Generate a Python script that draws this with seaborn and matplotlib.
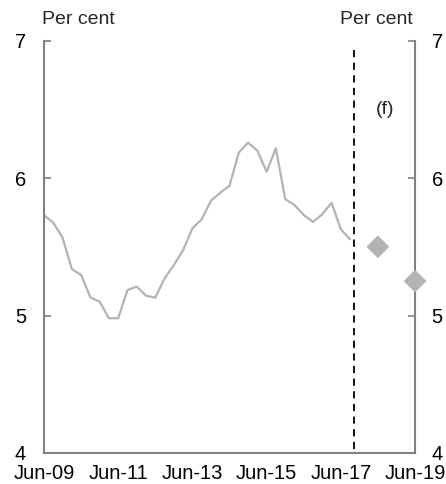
import matplotlib
matplotlib.use("Agg")
import matplotlib.pyplot as plt
import seaborn as sns
import pandas as pd
import numpy as np

sns.set_theme(style="white")
plt.rcParams['font.family'] = ['Liberation Sans', 'DejaVu Sans']

# Quarterly data, Jun-09 to Sep-17 (x as fractional year)
years = [2009.5 + 0.25 * i for i in range(34)]
values = [5.73, 5.675, 5.566, 5.338, 5.295, 5.132, 5.10, 4.98, 4.98, 5.185,
          5.21, 5.144, 5.13, 5.27, 5.367, 5.476, 5.634, 5.70, 5.835, 5.893,
          5.944, 6.184, 6.257, 6.199, 6.046, 6.216, 5.847, 5.804, 5.731, 5.68,
          5.736, 5.82, 5.627, 5.554]
fc_years = [2018.5, 2019.5]
fc_values = [5.5, 5.25]
forecast_start = 2017.85
xtick_pos = [2009.5, 2011.5, 2013.5, 2015.5, 2017.5, 2019.5]
xtick_labels = ["Jun-09", "Jun-11", "Jun-13", "Jun-15", "Jun-17", "Jun-19"]
yticks = [4, 5, 6, 7]

df = pd.DataFrame({"year": years, "value": values})
fc = pd.DataFrame({"year": fc_years, "value": fc_values})

fig = plt.figure(figsize=(4.46, 4.84), dpi=100)
ax = fig.add_axes([44/446, 31/484, (415-44)/446, (453-40.5)/484])

sns.lineplot(data=df, x="year", y="value", ax=ax, color="#b3b3b3", linewidth=1.6)
sns.scatterplot(data=fc, x="year", y="value", ax=ax, marker="D", s=135,
                color="#b3b3b3", edgecolor="none", zorder=5, clip_on=False)
ax.axvline(forecast_start, color="black", linestyle=(0, (4, 3)), linewidth=1.3,
           ymin=0.01, ymax=0.985)

ax.set_xlim(2009.5, 2019.5)
ax.set_ylim(4, 7)
ax.set_xticks(xtick_pos)
ax.set_xticklabels(xtick_labels)
ax.set_yticks(yticks)
ax.set_xlabel("")
ax.set_ylabel("")

spine_col = "#808080"
for s in ["left", "bottom", "right"]:
    ax.spines[s].set_color(spine_col)
    ax.spines[s].set_linewidth(1.5)
ax.spines["top"].set_visible(False)

FS = 14.5
ax.tick_params(axis="x", direction="in", length=6, width=1.2, color=spine_col,
               labelsize=FS, pad=8, labelcolor="black")
ax.tick_params(axis="y", direction="in", length=5, width=1.2, color=spine_col,
               labelsize=FS, pad=13, left=True, right=False, labelcolor="black")

ax2 = ax.twinx()
ax2.set_ylim(4, 7)
ax2.set_yticks(yticks)
for s in ["left", "bottom", "right", "top"]:
    ax2.spines[s].set_visible(False)
ax2.tick_params(axis="y", direction="in", length=5, width=1.2, color=spine_col,
                labelsize=FS, pad=12, labelcolor="black")
ax2.grid(False)
ax.grid(False)

ax.text(2018.7, 6.5, "(f)", fontsize=14, ha="center", va="center")
fig.text(42/446, 1 - 20/484, "Per cent", fontsize=14, ha="left", va="center")
fig.text(413/446, 1 - 20/484, "Per cent", fontsize=14, ha="right", va="center")

fig.savefig("out.png", dpi=100)
